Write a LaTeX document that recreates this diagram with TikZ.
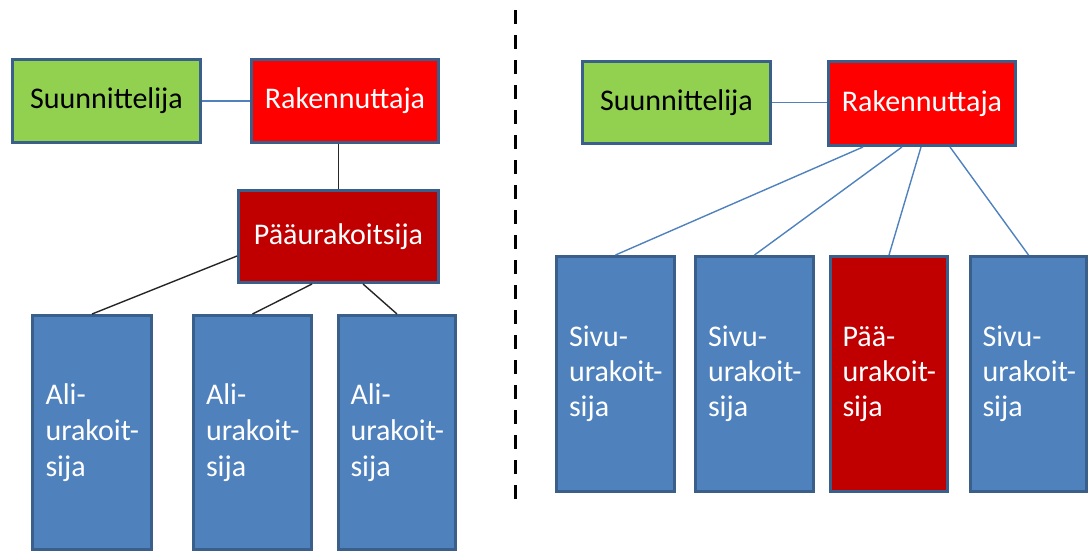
\documentclass[tikz,border=0pt]{standalone}
\usepackage{fontspec}
\setmainfont{Carlito}
\definecolor{boxgreen}{HTML}{92D050}
\definecolor{boxred}{HTML}{FF0000}
\definecolor{boxdarkred}{HTML}{C00000}
\definecolor{boxblue}{HTML}{4F81BD}
\definecolor{boxborder}{HTML}{3A5F8B}
\definecolor{linkblue}{HTML}{4F81BD}
\begin{document}
\begin{tikzpicture}[x=1pt,y=-1pt,
  box/.style={draw=boxborder, line width=3pt, inner sep=0pt, font=\fontsize{30}{35}\selectfont},
  widebox/.style={box, align=center},
  tallbox/.style={box, align=left, inner xsep=12pt, anchor=center},
  bluelink/.style={draw=linkblue, line width=1.4pt},
  blacklink/.style={draw=black!85, line width=1.4pt},
  divider/.style={draw=black, line width=3pt, dash pattern=on 14pt off 11pt}
]
\useasboundingbox (0,0) rectangle (1090,552);

% ---------- left ----------
\node[widebox, fill=boxgreen, text=black, minimum width=188pt, minimum height=83pt] (suL) at (106.5,101) {Suunnittelija};
\node[widebox, fill=boxred, text=white, minimum width=187pt, minimum height=83pt] (rakL) at (345,101) {Rakennuttaja};
\node[widebox, fill=boxdarkred, text=white, minimum width=200pt, minimum height=92pt] (paaL) at (338.5,236.5) {Pääurakoitsija};

\node[tallbox, fill=boxblue, text=white, minimum width=119pt, minimum height=234pt, text width=93pt, font=\fontsize{30}{36}\selectfont] (ali1) at (92,432.5) {Ali-\\\mbox{urakoit-}\\sija};
\node[tallbox, fill=boxblue, text=white, minimum width=118pt, minimum height=234pt, text width=93pt, font=\fontsize{30}{36}\selectfont] (ali2) at (252.5,432.5) {Ali-\\\mbox{urakoit-}\\sija};
\node[tallbox, fill=boxblue, text=white, minimum width=117pt, minimum height=234pt, text width=93pt, font=\fontsize{30}{36}\selectfont] (ali3) at (397,432.5) {Ali-\\\mbox{urakoit-}\\sija};

\draw[bluelink] (suL.east) -- (rakL.west);
\draw[blacklink] (paaL.north) -- (paaL.north |- rakL.south);
\draw[blacklink] ([yshift=-19.5pt]paaL.west) -- (ali1.north);
\draw[blacklink] ([xshift=-26.5pt]paaL.south) -- (ali2.north);
\draw[blacklink] ([xshift=24.5pt]paaL.south) -- (ali3.north);

% ---------- divider ----------
\coordinate (divtop) at (515,10);
\coordinate (divbot) at (515,503);
\draw[divider] (divtop) -- (divbot);

% ---------- right ----------
\node[widebox, fill=boxgreen, text=black, minimum width=188pt, minimum height=82pt] (suR) at (676.5,102.5) {Suunnittelija};
\node[widebox, fill=boxred, text=white, minimum width=187pt, minimum height=84pt] (rakR) at (922,103.5) {Rakennuttaja};

\node[tallbox, fill=boxblue, text=white, minimum width=118pt, minimum height=235pt, text width=93pt] (s1) at (615.5,374) {Sivu-\\\mbox{urakoit-}\\sija};
\node[tallbox, fill=boxblue, text=white, minimum width=118pt, minimum height=235pt, text width=93pt] (s2) at (754.5,374) {Sivu-\\\mbox{urakoit-}\\sija};
\node[tallbox, fill=boxdarkred, text=white, minimum width=117pt, minimum height=235pt, text width=93pt] (p3) at (889,374) {Pää-\\\mbox{urakoit-}\\sija};
\node[tallbox, fill=boxblue, text=white, minimum width=116pt, minimum height=235pt, text width=92pt] (s4) at (1028.5,374) {Sivu-\\\mbox{urakoit-}\\sija};

\draw[bluelink] (suR.east) -- (suR.east -| rakR.west);
\draw[bluelink] ([xshift=-59pt]rakR.south) -- (s1.north);
\draw[bluelink] ([xshift=-20pt]rakR.south) -- (s2.north);
\draw[bluelink] ([xshift=-1pt]rakR.south) -- (p3.north);
\draw[bluelink] ([xshift=28pt]rakR.south) -- (s4.north);
\end{tikzpicture}
\end{document}
